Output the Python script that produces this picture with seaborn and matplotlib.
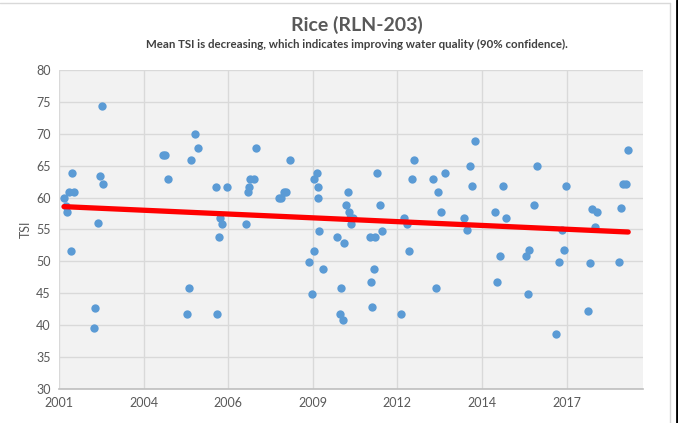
"""
plot.py - TSI samples for Rice (RLN-203) with a linear trend line.
Writes out.png (678x423).
"""
import matplotlib
matplotlib.use("Agg")
import matplotlib.pyplot as plt
from matplotlib.lines import Line2D
from matplotlib.ticker import FixedLocator, FuncFormatter
import numpy as np
import pandas as pd
import seaborn as sns

TITLE = "Rice (RLN-203)"
SUBTITLE = "Mean TSI is decreasing, which indicates improving water quality (90% confidence)."

# sample dates as Excel day serials, and TSI values
sample_serial = [
    37059, 37088, 37099, 37118, 37147, 37158, 37182, 37419, 37430, 37466,
    37485, 37508, 37520, 38234, 38253, 38285, 38510, 38537, 38557, 38605,
    38640, 38853, 38865, 38888, 38908, 38927, 38983, 39216, 39240, 39247,
    39255, 39302, 39334, 39598, 39625, 39661, 39689, 39736, 39956, 39985,
    40020, 40020, 40044, 40056, 40067, 40074, 40115, 40287, 40323, 40339,
    40358, 40370, 40398, 40417, 40429, 40437, 40476, 40446, 40674, 40689,
    40701, 40725, 40733, 40757, 40796, 40819, 41044, 41079, 41111, 41139,
    41171, 41194, 41419, 41454, 41478, 41513, 41564, 41785, 41821, 41856,
    41880, 41915, 42148, 42172, 42207, 42243, 42282, 42515, 42539, 42558,
    42610, 42645, 42877, 42912, 42941, 42971, 42995, 43255, 43279, 43302,
    43338, 43362, 43618, 43645, 43662, 43701, 43728,
]
tsi = [
    59.9, 58.7, 57.8, 60.8, 51.7, 63.8, 60.8, 39.5, 42.7, 56.0,
    63.4, 74.3, 62.1, 66.7, 66.7, 62.9, 41.8, 45.8, 65.8, 69.9,
    67.8, 61.7, 41.8, 53.8, 56.8, 55.8, 61.7, 55.8, 60.8, 61.7,
    62.9, 62.9, 67.8, 59.9, 59.9, 60.8, 60.8, 65.9, 49.9, 44.9,
    62.9, 51.7, 63.8, 61.7, 59.9, 54.8, 48.8, 53.8, 41.8, 45.8,
    40.8, 52.9, 58.8, 60.8, 57.8, 56.8, 56.8, 55.8, 53.9, 46.7,
    42.8, 48.8, 53.9, 63.8, 58.8, 54.8, 41.8, 56.8, 55.8, 51.7,
    62.9, 65.9, 62.9, 45.8, 60.8, 57.8, 63.8, 56.8, 54.9, 64.9,
    61.8, 68.8, 57.8, 46.7, 50.8, 61.8, 56.8, 50.8, 44.9, 51.8,
    58.8, 64.9, 38.7, 49.9, 54.9, 51.8, 61.8, 42.2, 49.7, 58.2,
    55.4, 57.8, 49.9, 58.3, 62.1, 62.1, 67.4,
]

x_ticks = [37000, 38000, 39000, 40000, 41000, 42000, 43000]
y_ticks = [30, 35, 40, 45, 50, 55, 60, 65, 70, 75, 80]

df = pd.DataFrame({"serial": sample_serial, "TSI": tsi})

GREY = "#595959"
sns.set_style("whitegrid")
plt.rcParams["font.family"] = ["Lato", "DejaVu Sans"]

fig = plt.figure(figsize=(6.78, 4.23), dpi=100)
ax = fig.add_axes([0.087, 0.080, 0.861, 0.755])
ax.set_facecolor("#F2F2F2")

sns.regplot(data=df, x="serial", y="TSI", ax=ax, ci=None,
            scatter_kws=dict(s=36, color="#5B9BD5", alpha=1, linewidths=0, zorder=3),
            line_kws=dict(color="#FF0000", lw=3.8, zorder=4, solid_capstyle="round"))

ax.set_xlim(37000, 43900)
ax.set_ylim(30, 80)
ax.xaxis.set_major_locator(FixedLocator(x_ticks))
ax.xaxis.set_major_formatter(FuncFormatter(
    lambda v, _: (pd.Timestamp("1899-12-30") + pd.Timedelta(days=int(v))).strftime("%Y")))
ax.set_yticks(y_ticks)

ax.grid(True, color="#D9D9D9", lw=1)
for side in ["top", "right", "left"]:
    ax.spines[side].set_visible(False)
ax.spines["bottom"].set_color("#BFBFBF")
ax.spines["bottom"].set_linewidth(1.2)
ax.tick_params(axis="both", colors=GREY, labelsize=9, length=0, pad=6)

ax.set_xlabel("")
ax.set_ylabel("TSI", color=GREY, fontsize=9, labelpad=3)

fig.text(0.527, 0.942, TITLE, ha="center", va="center", fontsize=14,
         fontweight="bold", color=GREY)
fig.text(0.527, 0.896, SUBTITLE, ha="center", va="center", fontsize=8.3,
         fontweight="bold", color="#404040")

# chart-area frame like the spreadsheet export
fig.add_artist(Line2D([0, 0.988], [0.992, 0.992], color="#D9D9D9", lw=1))
fig.add_artist(Line2D([0.988, 0.988], [0, 0.992], color="#D9D9D9", lw=1))
fig.add_artist(Line2D([0.998, 0.998], [0, 1], color="black", lw=2))

fig.savefig("out.png", dpi=100)
